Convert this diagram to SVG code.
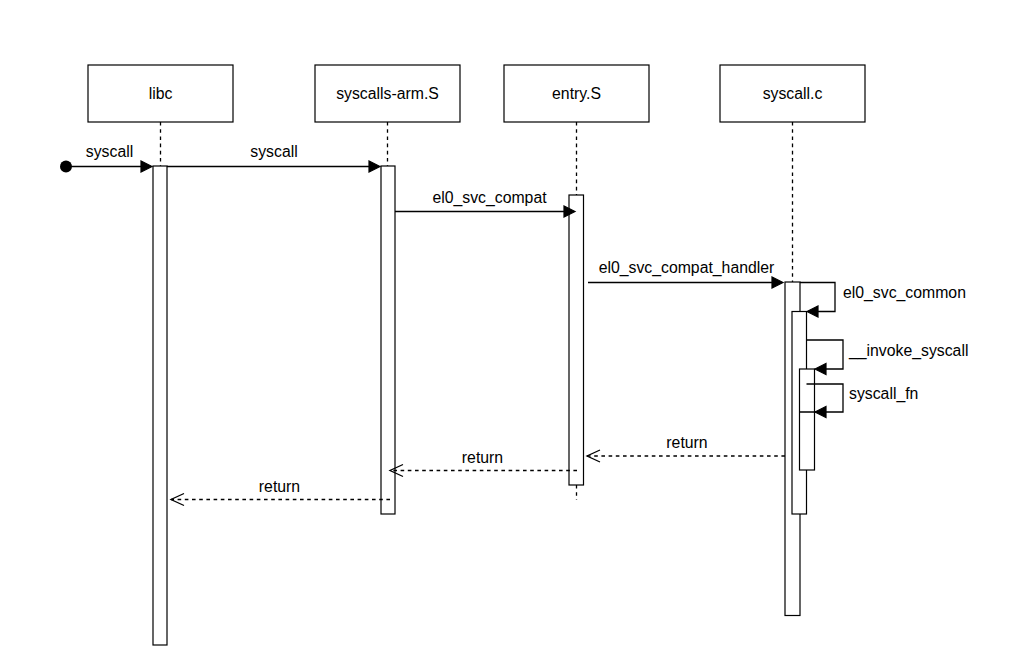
<svg xmlns="http://www.w3.org/2000/svg" width="1011" height="670" viewBox="0 0 1011 670">
<style>
.box{fill:#fff;stroke:#000;stroke-width:1.2}
.act{fill:#fff;stroke:#000;stroke-width:1.2}
.life{fill:none;stroke:#000;stroke-width:1.3;stroke-dasharray:3.6 3.6}
.msg{fill:none;stroke:#000;stroke-width:1.3}
.ret{fill:none;stroke:#000;stroke-width:1.3;stroke-dasharray:3.6 3.6}
.open{fill:none;stroke:#000;stroke-width:1.3}
.head{fill:#000;stroke:#000;stroke-width:1.2}
text{font-family:"Liberation Sans",Arial,sans-serif;font-size:15.8px;fill:#000}
.c{text-anchor:middle}
</style>
<rect width="1011" height="670" fill="#fff"/>
<g id="lifelines">
<path class="life" d="M160.5 122V166"/>
<path class="life" d="M387.5 122V166"/>
<path class="life" d="M576.5 122V195M576.5 485V500"/>
<path class="life" d="M792.5 122V282"/>
</g>
<g id="libc">
<rect class="box" x="88" y="65" width="145" height="57"/>
<text class="c" x="160.5" y="99">libc</text>
<rect class="act" x="153" y="166" width="14" height="479"/>
</g>
<g id="syscalls-arm">
<rect class="box" x="315" y="65" width="145" height="57"/>
<text class="c" x="387.5" y="99">syscalls-arm.S</text>
<rect class="act" x="381" y="166" width="14" height="348"/>
</g>
<g id="entry">
<rect class="box" x="504" y="65" width="145" height="57"/>
<text class="c" x="576.5" y="99">entry.S</text>
<rect class="act" x="569" y="195" width="14.5" height="290"/>
</g>
<g id="syscall-c">
<rect class="box" x="720" y="65" width="145" height="57"/>
<text class="c" x="792.5" y="99">syscall.c</text>
<rect class="act" x="785" y="282" width="15" height="333.5"/>
<rect class="act" x="792" y="311.5" width="14.5" height="202.5"/>
<rect class="act" x="799.5" y="369" width="15" height="101"/>
</g>
<g id="connectors">
<circle cx="66" cy="166.5" r="6" fill="#000"/>
<path class="msg" d="M66 166.5H141"/>
<path class="head" d="M152 166.5L141 161V172Z"/>
<text class="c" x="109.5" y="157">syscall</text>

<path class="msg" d="M167 166.5H369"/>
<path class="head" d="M380 166.5L369 161V172Z"/>
<text class="c" x="274" y="157">syscall</text>

<path class="msg" d="M395 211.5H564"/>
<path class="head" d="M575 211.5L564 206V217Z"/>
<text class="c" x="489.5" y="203">el0_svc_compat</text>

<path class="msg" d="M588 282.5H772"/>
<path class="head" d="M783 282.5L772 277V288Z"/>
<text class="c" x="686.5" y="273">el0_svc_compat_handler</text>

<path class="msg" d="M800 282.5H835V311.5H818"/>
<path class="head" d="M807 311.5L818 306V317Z"/>
<text x="843" y="298">el0_svc_common</text>

<path class="msg" d="M806.5 340H843V369H826"/>
<path class="head" d="M815 369L826 363.5V374.5Z"/>
<text x="849" y="356">__invoke_syscall</text>

<path class="msg" d="M806.5 384H843V412H799.5"/>
<path class="head" d="M815 412L826 406.5V417.5Z"/>
<text x="849" y="399">syscall_fn</text>

<path class="ret" d="M785 456H587"/>
<path class="open" d="M600 450L587 456L600 462"/>
<text class="c" x="687" y="448">return</text>

<path class="ret" d="M577 470.5H390"/>
<path class="open" d="M403 464.5L390 470.5L403 476.5"/>
<text class="c" x="482.5" y="463">return</text>

<path class="ret" d="M390 499.5H171"/>
<path class="open" d="M184 493.5L171 499.5L184 505.5"/>
<text class="c" x="279.5" y="492">return</text>
</g>
</svg>
